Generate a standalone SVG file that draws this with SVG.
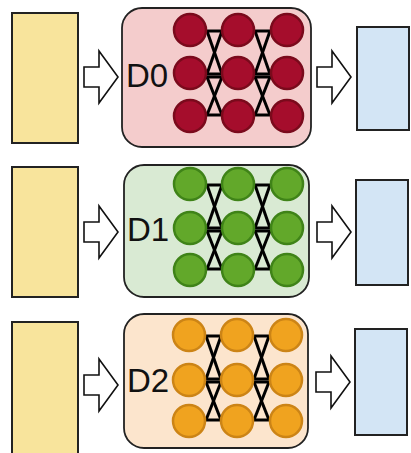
<svg xmlns="http://www.w3.org/2000/svg" width="411" height="453" viewBox="0 0 411 453">
  <defs>
    <style>
      .src { fill: #f8e49c; stroke: #222; stroke-width: 2; }
      .dst { fill: #d3e5f5; stroke: #222; stroke-width: 2; }
      .flow { fill: #fff; stroke: #111; stroke-width: 1.6; stroke-linejoin: miter; }
      .box { stroke: #222; stroke-width: 1.8; }
      .lbl { font-family: "Liberation Sans", Arial, sans-serif; font-size: 33px; fill: #111; }
      .wire { stroke: #000; stroke-width: 3; fill: none; stroke-linecap: butt; }
      .n-red { fill: #a50d2c; stroke: #7a0a1c; stroke-width: 2.5; }
      .n-green { fill: #62a82a; stroke: #3f8318; stroke-width: 2.5; }
      .n-orange { fill: #f0a31f; stroke: #cc8416; stroke-width: 2.5; }
    </style>
    <!-- block arrow pointing right, centred on y=0 -->
    <path id="blockArrow" d="M0,-10 H15 V-26 L34,0 L15,26 V10 H0 Z"/>
    <!-- connections between two neighbouring layers; gap spans x 0..15 -->
    <g id="links">
      <line x1="-1" y1="31" x2="16" y2="31"/>
      <line x1="-1" y1="74" x2="16" y2="74"/>
      <line x1="-1" y1="77" x2="16" y2="77"/>
      <line x1="-1" y1="115" x2="16" y2="115"/>
      <line x1="0" y1="31" x2="15" y2="74"/>
      <line x1="15" y1="31" x2="0" y2="74"/>
      <line x1="0" y1="77" x2="15" y2="115"/>
      <line x1="15" y1="77" x2="0" y2="115"/>
    </g>
  </defs>

  <!-- row D0 -->
  <g id="row-d0">
    <rect id="input-0" class="src" x="12" y="13" width="66" height="130"/>
    <g id="model-d0">
      <rect class="box" x="122" y="8" width="189" height="139" rx="20" fill="#f4cccc"/>
      <text class="lbl" x="126" y="87">D0</text>
      <g class="wire">
        <use href="#links" x="207"/>
        <use href="#links" x="255"/>
      </g>
      <g class="n-red">
        <circle cx="190" cy="30" r="16"/><circle cx="238" cy="30" r="16"/><circle cx="287" cy="30" r="16"/>
        <circle cx="190" cy="73" r="16"/><circle cx="238" cy="73" r="16"/><circle cx="287" cy="73" r="16"/>
        <circle cx="190" cy="116" r="16"/><circle cx="238" cy="116" r="16"/><circle cx="287" cy="116" r="16"/>
      </g>
    </g>
    <rect id="output-0" class="dst" x="357" y="27" width="52" height="103"/>
  </g>

  <!-- row D1 -->
  <g id="row-d1" transform="translate(0,154)">
    <rect id="input-1" class="src" x="12" y="13" width="66" height="130"/>
    <g id="model-d1">
      <rect class="box" x="124" y="11" width="185" height="132" rx="20" fill="#d9ead3"/>
      <text class="lbl" x="127" y="87">D1</text>
      <g class="wire">
        <use href="#links" x="207"/>
        <use href="#links" x="255"/>
      </g>
      <g class="n-green">
        <circle cx="190" cy="30" r="16"/><circle cx="238" cy="30" r="16"/><circle cx="287" cy="30" r="16"/>
        <circle cx="190" cy="74" r="16"/><circle cx="238" cy="74" r="16"/><circle cx="287" cy="74" r="16"/>
        <circle cx="190" cy="116" r="16"/><circle cx="238" cy="116" r="16"/><circle cx="287" cy="116" r="16"/>
      </g>
    </g>
    <rect id="output-1" class="dst" x="356" y="26" width="52" height="105"/>
  </g>

  <!-- row D2 -->
  <g id="row-d2" transform="translate(0,307)">
    <rect id="input-2" class="src" x="12" y="15" width="66" height="140"/>
    <g id="model-d2">
      <rect class="box" x="124" y="7" width="184" height="134" rx="20" fill="#fce5cd"/>
      <text class="lbl" x="127" y="85">D2</text>
      <g class="wire">
        <use href="#links" x="206" y="-2"/>
        <use href="#links" x="254" y="-2"/>
      </g>
      <g class="n-orange">
        <circle cx="189" cy="28" r="16"/><circle cx="237" cy="28" r="16"/><circle cx="286" cy="28" r="16"/>
        <circle cx="189" cy="73" r="16"/><circle cx="237" cy="73" r="16"/><circle cx="286" cy="73" r="16"/>
        <circle cx="189" cy="114" r="16"/><circle cx="237" cy="114" r="16"/><circle cx="286" cy="114" r="16"/>
      </g>
    </g>
    <rect id="output-2" class="dst" x="355" y="22" width="52" height="106"/>
  </g>

  <!-- flow arrows -->
  <g id="connectors" class="flow">
    <use href="#blockArrow" x="84" y="77"/>
    <use href="#blockArrow" x="317" y="77"/>
    <use href="#blockArrow" x="84" y="232"/>
    <use href="#blockArrow" x="317" y="232"/>
    <use href="#blockArrow" x="84" y="385"/>
    <use href="#blockArrow" x="316" y="382"/>
  </g>
</svg>
